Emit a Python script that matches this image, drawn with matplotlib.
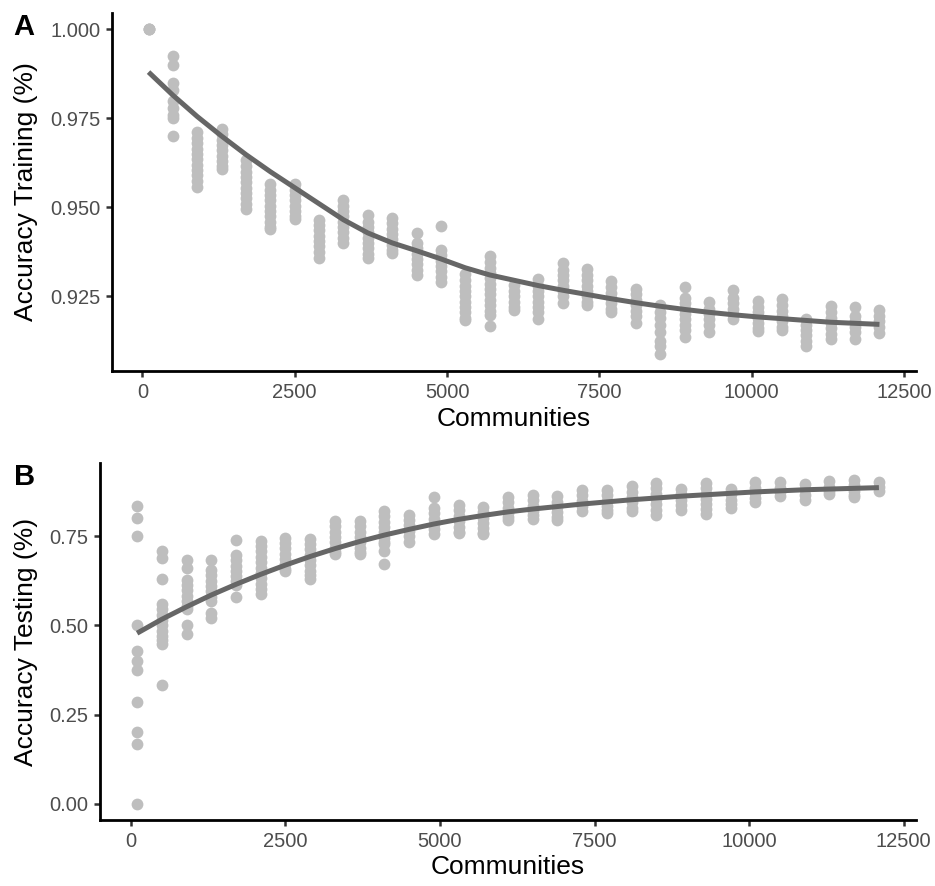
import numpy as np
import matplotlib.pyplot as plt

plt.rcParams['font.family'] = ['Liberation Sans', 'DejaVu Sans']

# community sizes (one strip of points per size)
communities = [100, 500, 900, 1300, 1700, 2100, 2500, 2900, 3300, 3700, 4100,
               4500, 4900, 5300, 5700, 6100, 6500, 6900, 7300, 7700, 8100,
               8500, 8900, 9300, 9700, 10100, 10500, 10900, 11300, 11700, 12100]

# training accuracy, values read per strip
train_acc = [
    [1.0, 1.0, 1.0],
    [0.9925, 0.990, 0.985, 0.983, 0.980, 0.978, 0.976, 0.975, 0.970],
    [0.9712, 0.9695, 0.968, 0.9665, 0.965, 0.9635, 0.962, 0.9605, 0.959, 0.9575, 0.9558],
    [0.9719, 0.9705, 0.969, 0.9675, 0.966, 0.9645, 0.963, 0.9615, 0.9608],
    [0.9632, 0.9615, 0.96, 0.9585, 0.957, 0.9555, 0.954, 0.9525, 0.951, 0.9496],
    [0.9565, 0.955, 0.9535, 0.952, 0.9505, 0.949, 0.9475, 0.946, 0.9445, 0.9439],
    [0.9565, 0.955, 0.9535, 0.952, 0.9505, 0.949, 0.9475, 0.9467],
    [0.9465, 0.945, 0.9435, 0.942, 0.9405, 0.939, 0.9375, 0.9357],
    [0.9521, 0.9505, 0.949, 0.9475, 0.946, 0.9445, 0.943, 0.9415, 0.940],
    [0.9477, 0.946, 0.9445, 0.943, 0.9415, 0.940, 0.9385, 0.937, 0.9357],
    [0.9471, 0.9455, 0.944, 0.9425, 0.941, 0.9395, 0.938, 0.9371],
    [0.9429, 0.940, 0.9385, 0.937, 0.9355, 0.934, 0.9325, 0.931],
    [0.9448, 0.9381, 0.9365, 0.935, 0.9335, 0.932, 0.9305, 0.929],
    [0.9313, 0.9295, 0.928, 0.9265, 0.925, 0.9235, 0.922, 0.9205, 0.919, 0.9184],
    [0.9363, 0.9345, 0.933, 0.9315, 0.930, 0.9285, 0.927, 0.9255, 0.924, 0.9225,
     0.921, 0.9198, 0.9166],
    [0.9282, 0.9265, 0.925, 0.9235, 0.922, 0.9212],
    [0.9299, 0.928, 0.9265, 0.925, 0.9235, 0.922, 0.9205, 0.9187],
    [0.9344, 0.9325, 0.931, 0.9295, 0.928, 0.9265, 0.925, 0.9232],
    [0.9327, 0.931, 0.9295, 0.928, 0.9265, 0.925, 0.9235, 0.9226],
    [0.9293, 0.9275, 0.926, 0.9245, 0.923, 0.9215, 0.9206],
    [0.9271, 0.9255, 0.924, 0.9225, 0.921, 0.9195, 0.9176],
    [0.9226, 0.9205, 0.919, 0.917, 0.915, 0.9125, 0.911, 0.9089],
    [0.9275, 0.9245, 0.923, 0.9215, 0.920, 0.9185, 0.917, 0.9155, 0.9136],
    [0.9234, 0.9215, 0.920, 0.9185, 0.917, 0.915],
    [0.9269, 0.9245, 0.923, 0.9215, 0.920, 0.9187],
    [0.9237, 0.922, 0.9205, 0.919, 0.9175, 0.916, 0.9153],
    [0.9243, 0.9225, 0.921, 0.9195, 0.918, 0.9165, 0.9156],
    [0.9187, 0.917, 0.9155, 0.914, 0.9125, 0.9111],
    [0.9223, 0.9205, 0.919, 0.9175, 0.916, 0.9145, 0.9131],
    [0.9219, 0.9195, 0.918, 0.9165, 0.915, 0.9131],
    [0.9212, 0.9195, 0.918, 0.9165, 0.9148],
]

# testing accuracy, values read per strip
test_acc = [
    [0.8333, 0.8, 0.75, 0.5, 0.4286, 0.4, 0.375, 0.2857, 0.2, 0.1667, 0.0],
    [0.708, 0.69, 0.63, 0.56, 0.545, 0.53, 0.515, 0.50, 0.485, 0.47, 0.458, 0.447, 0.333],
    [0.683, 0.66, 0.628, 0.613, 0.598, 0.583, 0.568, 0.555, 0.547, 0.50, 0.475],
    [0.683, 0.656, 0.64, 0.625, 0.61, 0.595, 0.58, 0.567, 0.535, 0.52],
    [0.739, 0.697, 0.682, 0.667, 0.652, 0.637, 0.624, 0.614, 0.58],
    [0.7375, 0.722, 0.707, 0.692, 0.677, 0.662, 0.647, 0.632, 0.617, 0.602, 0.5875],
    [0.746, 0.731, 0.716, 0.701, 0.686, 0.671, 0.658, 0.651],
    [0.743, 0.728, 0.713, 0.698, 0.683, 0.668, 0.653, 0.64, 0.63],
    [0.793, 0.778, 0.763, 0.748, 0.733, 0.718, 0.705, 0.699],
    [0.793, 0.778, 0.763, 0.748, 0.733, 0.718, 0.705, 0.701],
    [0.821, 0.806, 0.791, 0.776, 0.761, 0.746, 0.733, 0.728, 0.708, 0.672],
    [0.81, 0.795, 0.78, 0.765, 0.75, 0.735],
    [0.861, 0.829, 0.814, 0.799, 0.784, 0.769, 0.757],
    [0.8375, 0.822, 0.807, 0.792, 0.777, 0.762, 0.76],
    [0.832, 0.817, 0.802, 0.787, 0.772, 0.76, 0.757],
    [0.86, 0.845, 0.83, 0.815, 0.803, 0.796],
    [0.865, 0.85, 0.835, 0.82, 0.808, 0.799],
    [0.8625, 0.847, 0.832, 0.817, 0.805, 0.796],
    [0.879, 0.864, 0.849, 0.834, 0.821],
    [0.879, 0.864, 0.849, 0.834, 0.822, 0.815],
    [0.89, 0.875, 0.86, 0.845, 0.83, 0.821],
    [0.899, 0.884, 0.869, 0.854, 0.839, 0.824, 0.81],
    [0.882, 0.867, 0.852, 0.837, 0.824],
    [0.899, 0.884, 0.869, 0.854, 0.839, 0.826, 0.8125],
    [0.882, 0.867, 0.852, 0.839, 0.829],
    [0.901, 0.886, 0.871, 0.858, 0.846],
    [0.901, 0.886, 0.873, 0.8625],
    [0.896, 0.881, 0.866, 0.851],
    [0.904, 0.889, 0.876, 0.868],
    [0.907, 0.892, 0.877, 0.865, 0.86],
    [0.901, 0.888, 0.876],
]

# smoothed trend lines
train_fit = [0.988, 0.9815, 0.9755, 0.970, 0.9648, 0.960, 0.9555, 0.951, 0.9465,
             0.9428, 0.940, 0.9378, 0.9355, 0.933, 0.931, 0.9295, 0.928, 0.9267,
             0.9255, 0.9243, 0.9232, 0.9222, 0.9213, 0.9205, 0.9198, 0.9192,
             0.9187, 0.9182, 0.9177, 0.9174, 0.9171]
test_fit = [0.478, 0.517, 0.552, 0.585, 0.615, 0.643, 0.669, 0.693, 0.715, 0.735,
            0.753, 0.769, 0.784, 0.797, 0.808, 0.818, 0.826, 0.833, 0.840, 0.846,
            0.852, 0.857, 0.862, 0.866, 0.870, 0.874, 0.877, 0.880, 0.882, 0.884,
            0.886]

W, H = 935, 886
fig = plt.figure(figsize=(W / 100, H / 100), dpi=100)


def px_axes(left, top, right, bottom):
    return fig.add_axes([left / W, 1 - bottom / H, (right - left) / W, (bottom - top) / H])


ax_a = px_axes(112, 13, 916, 371)
ax_b = px_axes(100, 463, 916, 820)


def draw(ax, acc, fit, ylabel, yticks, fmt, ylim, ylab_x, xlab_y):
    xs = np.concatenate([[c] * len(v) for c, v in zip(communities, acc)])
    ys = np.concatenate(acc)
    ax.scatter(xs, ys, s=72, color='#BEBEBE', linewidths=0, zorder=2)
    ax.plot(communities, fit, color='#666666', lw=3.6, solid_capstyle='butt', zorder=3)
    ax.set_xlim(-500, 12700)
    ax.set_ylim(*ylim)
    ax.set_xticks([0, 2500, 5000, 7500, 10000, 12500])
    ax.set_yticks(yticks)
    ax.set_yticklabels([fmt.format(t) for t in yticks])
    for s in ['top', 'right']:
        ax.spines[s].set_visible(False)
    for s in ['left', 'bottom']:
        ax.spines[s].set_linewidth(2.0)
        ax.spines[s].set_color('black')
    ax.tick_params(length=4.3, width=1.8, color='#333333', labelcolor='#4D4D4D',
                   labelsize=14.5, pad=4)
    ax.set_xlabel('Communities', fontsize=19, color='black')
    ax.set_ylabel(ylabel, fontsize=19, color='black')
    ax.xaxis.set_label_coords(0.5, xlab_y)
    ax.xaxis.label.set_va('top')
    ax.yaxis.set_label_coords(ylab_x, 0.5)


draw(ax_a, train_acc, train_fit, 'Accuracy Training (%)',
     [0.925, 0.950, 0.975, 1.000], '{:.3f}', (0.904, 1.0046), -0.092, -0.100)
draw(ax_b, test_acc, test_fit, 'Accuracy Testing (%)',
     [0.00, 0.25, 0.50, 0.75], '{:.2f}', (-0.0455, 0.955), -0.076, -0.098)

fig.text(13 / W, 1 - 35 / H, 'A', fontsize=21, fontweight='bold', va='baseline')
fig.text(14 / W, 1 - 485 / H, 'B', fontsize=21, fontweight='bold', va='baseline')

fig.savefig('out.png', dpi=100)
